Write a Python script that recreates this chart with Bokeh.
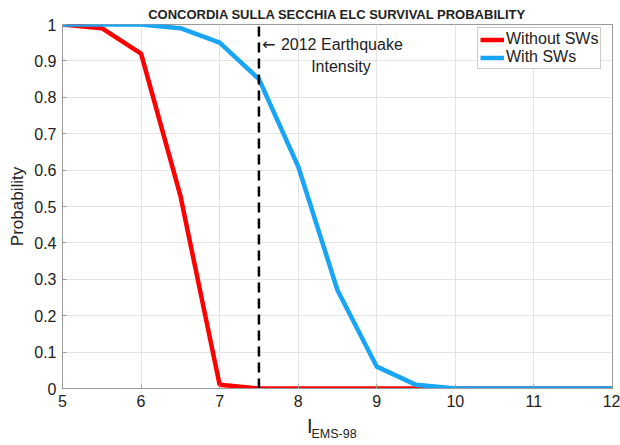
from bokeh.plotting import figure
from bokeh.models import Range1d, Label, Legend, LegendItem, CustomJSTickFormatter, FixedTicker, LinearAxis
from bokeh.embed import file_html
from bokeh.resources import INLINE

intensity = [5, 5.5, 6, 6.5, 7, 7.5, 8, 8.5, 9, 9.5, 10, 10.5, 11, 11.5, 12]
p_without_sw = [1.0, 0.99, 0.92, 0.53, 0.01, 0.0, 0.0, 0.0, 0.0, 0.0, 0.0, 0.0, 0.0, 0.0, 0.0]
p_with_sw = [1.0, 1.0, 1.0, 0.99, 0.95, 0.85, 0.61, 0.27, 0.06, 0.01, 0.0, 0.0, 0.0, 0.0, 0.0]
event_intensity = 7.5
x_ticks = [5, 6, 7, 8, 9, 10, 11, 12]
y_ticks = [0, 0.1, 0.2, 0.3, 0.4, 0.5, 0.6, 0.7, 0.8, 0.9, 1.0]

FONT = "Liberation Sans"
GREY = "#9a9a9a"
TXT = "#222222"
NB = "\u00a0"

p = figure(width=620, height=445, output_backend="svg", toolbar_location=None,
           x_range=Range1d(5, 12), y_range=Range1d(0, 1),
           min_border_left=62, min_border_right=8, min_border_top=24, min_border_bottom=57)

p.title.text = "CONCORDIA SULLA SECCHIA ELC SURVIVAL PROBABILITY"
p.title.align = "center"
p.title.text_font = FONT
p.title.text_font_size = "13px"
p.title.text_font_style = "bold"
p.title.text_color = TXT
p.title.standoff = 5

p.background_fill_color = "white"
p.border_fill_color = "white"
p.outline_line_color = GREY
p.outline_line_width = 1

for ax in (p.xaxis[0], p.yaxis[0]):
    ax.axis_line_color = GREY
    ax.major_tick_line_color = GREY
    ax.major_tick_in = 4
    ax.major_tick_out = 0
    ax.minor_tick_line_color = None
    ax.major_label_text_font = FONT
    ax.major_label_text_font_size = "16px"
    ax.major_label_text_color = TXT
    ax.axis_label_text_font = FONT
    ax.axis_label_text_font_style = "normal"
    ax.axis_label_text_color = TXT

p.xaxis.ticker = FixedTicker(ticks=x_ticks)
p.yaxis.ticker = FixedTicker(ticks=y_ticks)
p.yaxis.formatter = CustomJSTickFormatter(code="return tick.toFixed(1).replace(/\\.0$/, '');")
p.xaxis.major_label_standoff = 6
p.yaxis.major_label_standoff = 6
p.yaxis.axis_label = "Probability"
p.yaxis.axis_label_text_font_size = "17px"
p.yaxis.axis_label_standoff = 4

# x-axis label "I" with subscript "EMS-98" on a second, tickless axis
p.xaxis.axis_label = "I" + NB * 10
p.xaxis.axis_label_text_font_size = "20px"
p.xaxis.axis_label_standoff = 5
sub_axis = LinearAxis(ticker=FixedTicker(ticks=[]), axis_line_color=None,
                      major_tick_line_color=None, minor_tick_line_color=None,
                      major_label_text_font_size="0px",
                      axis_label="EMS-98" + NB * 2, axis_label_text_font=FONT,
                      axis_label_text_font_size="12.5px", axis_label_text_font_style="normal",
                      axis_label_text_color=TXT, axis_label_standoff=-13)
p.add_layout(sub_axis, "below")

p.grid.grid_line_color = "#e4e4e4"
p.grid.grid_line_width = 1

r1 = p.line(intensity, p_without_sw, line_color="#ff0000", line_width=4.5)
r2 = p.line(intensity, p_with_sw, line_color="#18a5f5", line_width=4.5)

p.segment(x0=[event_intensity], y0=[0], x1=[event_intensity], y1=[1],
          line_color="black", line_width=2.5, line_dash="10 6")

p.add_layout(Label(x=event_intensity, y=0.945, x_offset=3, text="\u2190",
                   text_font="DejaVu Sans", text_font_size="16px", text_color=TXT,
                   text_baseline="middle"))
p.add_layout(Label(x=event_intensity, y=0.945, x_offset=22, text="2012 Earthquake",
                   text_font=FONT, text_font_size="16px", text_color=TXT,
                   text_baseline="middle"))
p.add_layout(Label(x=event_intensity, y=0.885, x_offset=82, text="Intensity",
                   text_font=FONT, text_font_size="16px", text_color=TXT,
                   text_baseline="middle", text_align="center"))

legend = Legend(items=[LegendItem(label="Without SWs", renderers=[r1]),
                       LegendItem(label="With SWs", renderers=[r2])],
                location=(415, 319), margin=0, padding=2, spacing=0,
                label_text_font=FONT, label_text_font_size="16px", label_text_color=TXT,
                label_standoff=2, glyph_width=24, glyph_height=17, label_height=17,
                border_line_color=GREY, background_fill_color="white")
p.add_layout(legend)

open("out.html", "w").write(file_html(p, INLINE))
